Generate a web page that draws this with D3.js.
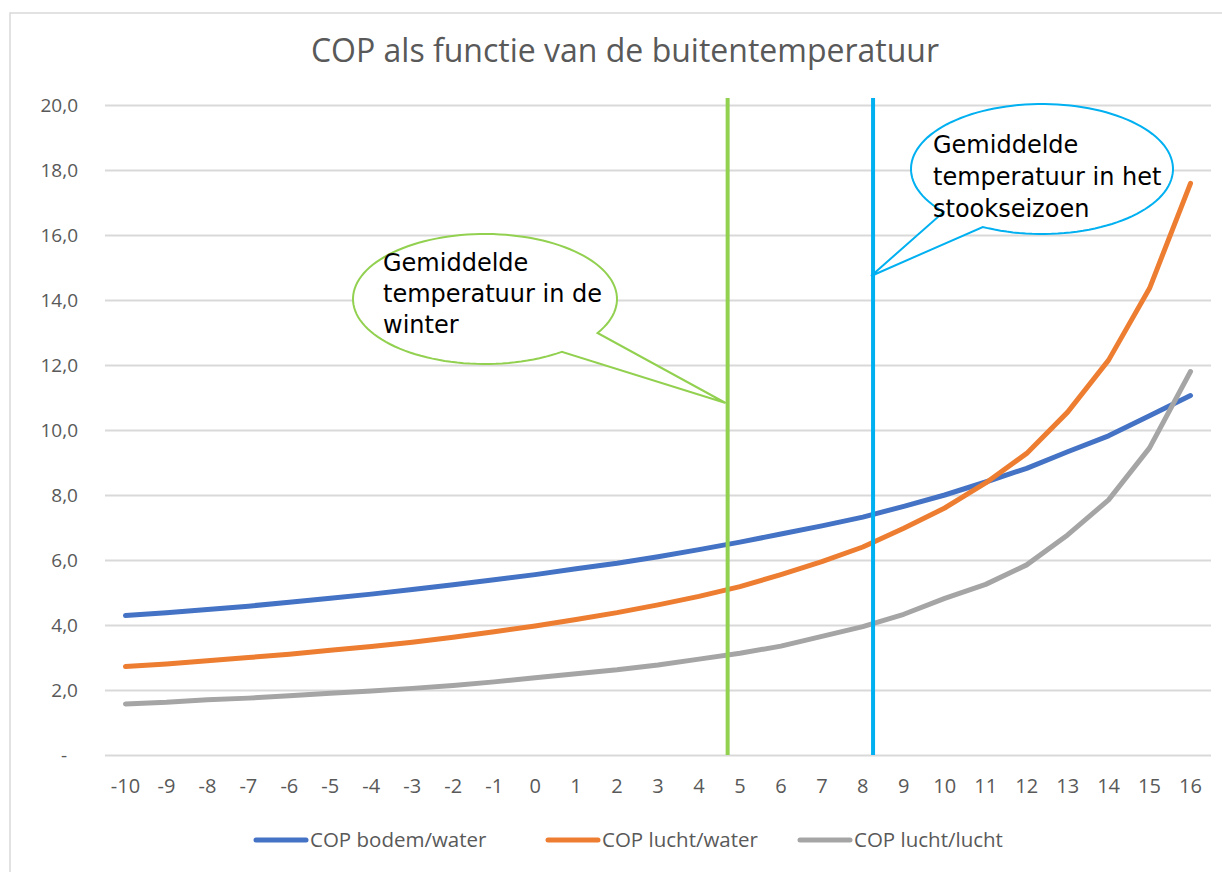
<!DOCTYPE html>
<html lang="nl">
<head>
<meta charset="UTF-8">
<title>COP als functie van de buitentemperatuur</title>
<script src="https://d3js.org/d3.v7.min.js"></script>
<style>
  body { margin: 0; background: #fff; }
</style>
</head>
<body>
<div id="container"></div>
<script>
  // temperatures on the x axis
  var temps = [-10, -9, -8, -7, -6, -5, -4, -3, -2, -1, 0, 1, 2, 3, 4, 5, 6, 7, 8, 9, 10, 11, 12, 13, 14, 15, 16];

  var copBodemWater = [4.29, 4.38, 4.48, 4.58, 4.70, 4.82, 4.95, 5.09, 5.24, 5.39, 5.55, 5.73, 5.90, 6.10, 6.32, 6.55,
    6.80, 7.05, 7.32, 7.65, 8.00, 8.40, 8.82, 9.33, 9.82, 10.44, 11.06];
  var copLuchtWater = [2.72, 2.80, 2.90, 3.00, 3.10, 3.22, 3.34, 3.47, 3.62, 3.79, 3.97, 4.17, 4.38, 4.62, 4.88, 5.18,
    5.55, 5.95, 6.40, 6.98, 7.60, 8.37, 9.28, 10.55, 12.15, 14.36, 17.59];
  var copLuchtLucht = [1.57, 1.62, 1.70, 1.75, 1.82, 1.90, 1.97, 2.05, 2.14, 2.25, 2.38, 2.50, 2.62, 2.77, 2.95, 3.13,
    3.35, 3.65, 3.95, 4.33, 4.82, 5.25, 5.85, 6.77, 7.85, 9.45, 11.80];

  var seriesNames = ["COP bodem/water", "COP lucht/water", "COP lucht/lucht"];
  var seriesColors = ["#4472C4", "#ED7D31", "#A5A5A5"];

  var yTicks = [0, 2, 4, 6, 8, 10, 12, 14, 16, 18, 20];

  // vertical marker lines (average temperatures)
  var markerTemps = [4.7, 8.25];
  var markerColors = ["#92D050", "#00B0F0"];
  var calloutLines = [
    ["Gemiddelde", "temperatuur in de", "winter"],
    ["Gemiddelde", "temperatuur in het", "stookseizoen"]
  ];

  var width = 1222, height = 872;
  var plot = { left: 105, right: 1211, top: 105, bottom: 755 };
  var axisFont = "'Open Sans', 'Noto Sans', sans-serif";

  var svg = d3.select("#container").append("svg")
    .attr("width", width)
    .attr("height", height);

  // chart frame
  svg.append("rect")
    .attr("x", 10).attr("y", 13)
    .attr("width", 1240).attr("height", 900)
    .attr("fill", "#fff")
    .attr("stroke", "#d9d9d9")
    .attr("stroke-width", 1.5);

  svg.append("text")
    .attr("x", 625).attr("y", 62)
    .attr("text-anchor", "middle")
    .attr("font-family", axisFont)
    .attr("font-size", 32)
    .attr("fill", "#595959")
    .text("COP als functie van de buitentemperatuur");

  var x = d3.scaleBand()
    .domain(temps)
    .range([plot.left, plot.right]);
  var xc = function (t) { return x(t) + x.bandwidth() / 2; };
  // continuous version of the same axis, for the marker lines
  var xLin = d3.scaleLinear()
    .domain([temps[0], temps[temps.length - 1]])
    .range([xc(temps[0]), xc(temps[temps.length - 1])]);

  var y = d3.scaleLinear()
    .domain([0, 20])
    .range([plot.bottom, plot.top]);

  // gridlines + y labels
  var yAxis = d3.axisLeft(y)
    .tickValues(yTicks)
    .tickSize(-(plot.right - plot.left))
    .tickPadding(27)
    .tickFormat(function (d) { return d === 0 ? "-" : d3.format(".1f")(d).replace(".", ","); });

  var gy = svg.append("g")
    .attr("transform", "translate(" + plot.left + ",0)")
    .call(yAxis);
  gy.select(".domain").remove();
  gy.selectAll("line").attr("stroke", "#d9d9d9").attr("stroke-width", 2);
  gy.selectAll("text")
    .attr("font-family", axisFont)
    .attr("font-size", 19)
    .attr("fill", "#595959");
  // the "-" for zero sits a bit left, like the accounting format
  gy.selectAll("text").filter(function (d) { return d === 0; })
    .attr("x", -38);

  // x labels
  var xAxis = d3.axisBottom(x).tickSize(0).tickPadding(24);
  var gx = svg.append("g")
    .attr("transform", "translate(0," + plot.bottom + ")")
    .call(xAxis);
  gx.select(".domain").remove();
  gx.selectAll("text")
    .attr("font-family", axisFont)
    .attr("font-size", 20)
    .attr("fill", "#595959");

  // series lines
  var allSeries = [copBodemWater, copLuchtWater, copLuchtLucht];
  var line = d3.line()
    .x(function (d, i) { return xc(temps[i]); })
    .y(function (d) { return y(d); });

  svg.append("g").selectAll("path")
    .data(allSeries)
    .enter()
    .append("path")
    .attr("d", line)
    .attr("fill", "none")
    .attr("stroke", function (d, i) { return seriesColors[i]; })
    .attr("stroke-width", 5)
    .attr("stroke-linejoin", "round")
    .attr("stroke-linecap", "round");

  // marker lines
  svg.append("g").selectAll("line")
    .data(markerTemps)
    .enter()
    .append("line")
    .attr("x1", function (d) { return xLin(d); })
    .attr("x2", function (d) { return xLin(d); })
    .attr("y1", 98)
    .attr("y2", plot.bottom)
    .attr("stroke", function (d, i) { return markerColors[i]; })
    .attr("stroke-width", 4);

  // speech-bubble callouts: ellipse with a gap (a1..a2) and a tail to the marker line
  var callouts = [
    { cx: 485, cy: 299, rx: 132, ry: 65, a1: 0.55, a2: 0.95, tipY: 403, tx: 383, ty: 271, gap: 31 },
    { cx: 1042, cy: 169, rx: 131, ry: 65, a1: 2.04, a2: 2.42, tipY: 276, tx: 933, ty: 153, gap: 32 }
  ];

  function bubblePoints(c, tipX) {
    var pts = [];
    var n = 120;
    // walk the long way round from a2 to a1 + 2pi, then out to the tip
    for (var k = 0; k <= n; k++) {
      var a = c.a2 + (c.a1 + 2 * Math.PI - c.a2) * k / n;
      pts.push([c.cx + c.rx * Math.cos(a), c.cy + c.ry * Math.sin(a)]);
    }
    pts.push([tipX, c.tipY]);
    return pts;
  }

  var bubbleLine = d3.line().curve(d3.curveLinearClosed);

  callouts.forEach(function (c, i) {
    var tipX = xLin(markerTemps[i]) - 2;
    svg.append("path")
      .attr("d", bubbleLine(bubblePoints(c, tipX)))
      .attr("fill", "#fff")
      .attr("stroke", markerColors[i])
      .attr("stroke-width", 2)
      .attr("stroke-linejoin", "miter");

    svg.append("g").selectAll("text")
      .data(calloutLines[i])
      .enter()
      .append("text")
      .attr("x", c.tx)
      .attr("y", function (d, j) { return c.ty + j * c.gap; })
      .attr("font-family", "'DejaVu Sans', sans-serif")
      .attr("font-size", 24)
      .attr("fill", "#000")
      .text(function (d) { return d; });
  });

  // legend
  var legendX = [253, 545, 797];
  var lg = svg.append("g").selectAll("g")
    .data(seriesNames)
    .enter()
    .append("g")
    .attr("transform", function (d, i) { return "translate(" + legendX[i] + ",840)"; });
  lg.append("line")
    .attr("x1", 3).attr("x2", 53)
    .attr("stroke", function (d, i) { return seriesColors[i]; })
    .attr("stroke-width", 5)
    .attr("stroke-linecap", "round");
  lg.append("text")
    .attr("x", 57).attr("y", 7)
    .attr("font-family", axisFont)
    .attr("font-size", 20.5)
    .attr("fill", "#595959")
    .text(function (d) { return d; });
</script>
</body>
</html>
